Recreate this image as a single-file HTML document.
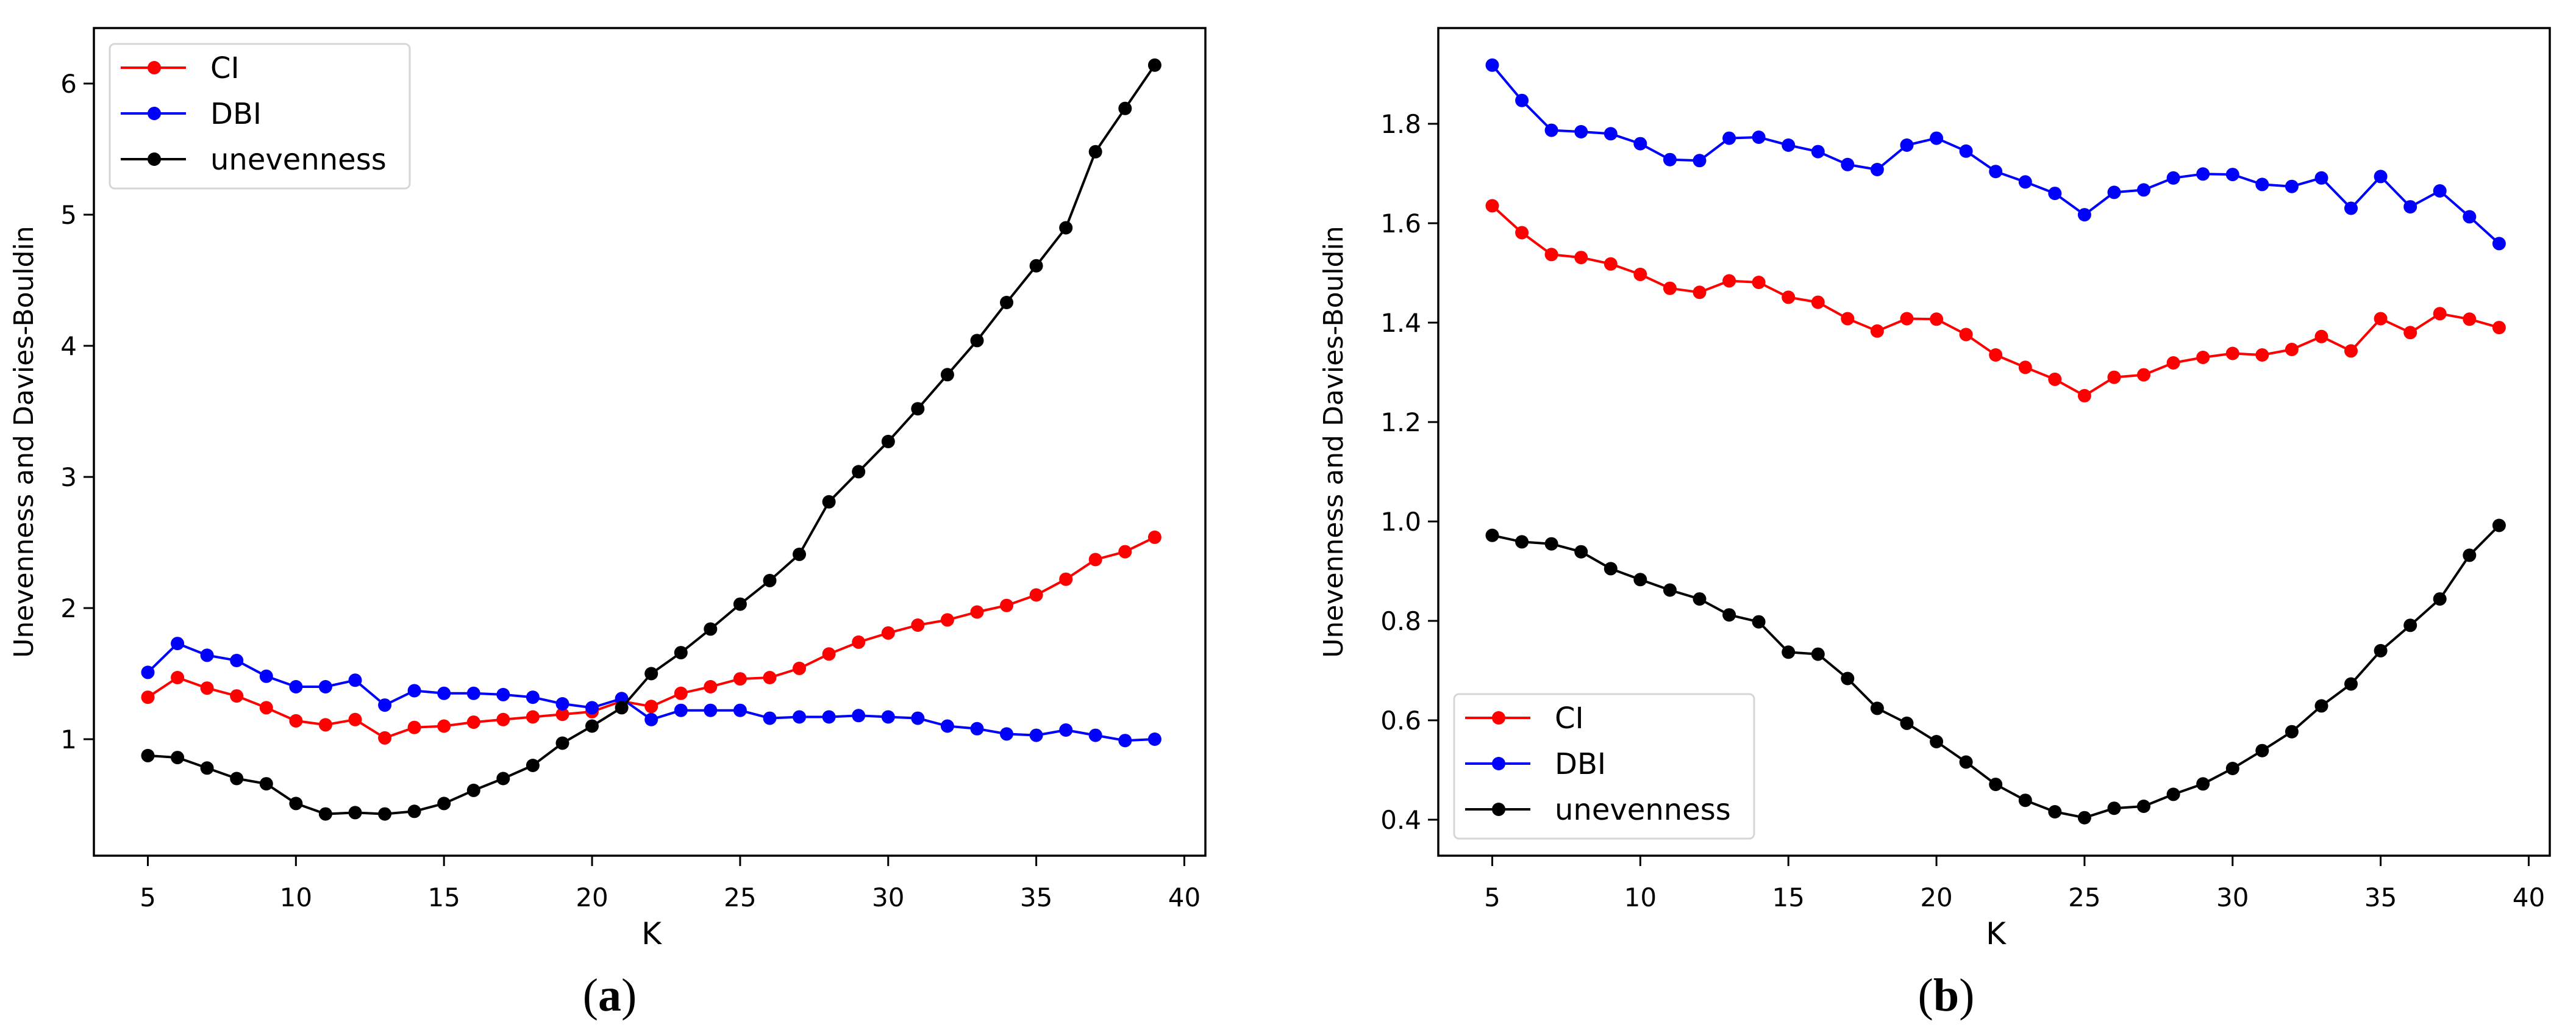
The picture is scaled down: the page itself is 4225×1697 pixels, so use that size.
<!DOCTYPE html>
<html><head><meta charset="utf-8"><style>
html,body{margin:0;padding:0;background:#fff;}
svg{display:block;}
</style></head><body>
<svg id="fig" width="4225" height="1697" viewBox="0 0 4225 1697" xmlns="http://www.w3.org/2000/svg" font-family="'DejaVu Sans','Liberation Sans',sans-serif"></svg>
<script>
const kValues = [5,6,7,8,9,10,11,12,13,14,15,16,17,18,19,20,21,22,23,24,25,26,27,28,29,30,31,32,33,34,35,36,37,38,39];
const ciA = [1.32,1.47,1.39,1.33,1.24,1.14,1.11,1.15,1.01,1.09,1.10,1.13,1.15,1.17,1.19,1.21,1.29,1.25,1.35,1.40,1.46,1.47,1.54,1.65,1.74,1.81,1.87,1.91,1.97,2.02,2.10,2.22,2.37,2.43,2.54];
const dbiA = [1.51,1.73,1.64,1.60,1.48,1.40,1.40,1.45,1.26,1.37,1.35,1.35,1.34,1.32,1.27,1.24,1.31,1.15,1.22,1.22,1.22,1.16,1.17,1.17,1.18,1.17,1.16,1.10,1.08,1.04,1.03,1.07,1.03,0.99,1.00];
const unevA = [0.875,0.86,0.78,0.70,0.66,0.51,0.43,0.44,0.43,0.45,0.51,0.61,0.70,0.80,0.97,1.10,1.24,1.50,1.66,1.84,2.03,2.21,2.41,2.81,3.04,3.27,3.52,3.78,4.04,4.33,4.61,4.90,5.48,5.81,6.14];
const ciB = [1.635,1.581,1.537,1.531,1.518,1.497,1.469,1.461,1.484,1.481,1.451,1.441,1.408,1.383,1.408,1.407,1.376,1.335,1.310,1.286,1.253,1.290,1.295,1.319,1.330,1.338,1.335,1.346,1.372,1.343,1.408,1.380,1.418,1.407,1.390];
const dbiB = [1.918,1.847,1.787,1.784,1.780,1.760,1.728,1.726,1.771,1.773,1.757,1.744,1.718,1.708,1.757,1.771,1.745,1.704,1.683,1.660,1.617,1.662,1.667,1.691,1.699,1.698,1.678,1.674,1.691,1.630,1.694,1.633,1.665,1.613,1.559];
const unevB = [0.972,0.959,0.955,0.939,0.905,0.883,0.862,0.844,0.812,0.798,0.737,0.733,0.684,0.624,0.594,0.557,0.516,0.471,0.439,0.416,0.404,0.423,0.427,0.451,0.472,0.503,0.539,0.577,0.629,0.673,0.740,0.791,0.844,0.932,0.992];
const xTicks = [5,10,15,20,25,30,35,40];
const yTicksA = [1,2,3,4,5,6];
const yTickLabelsA = ["1","2","3","4","5","6"];
const yTicksB = [0.4,0.6,0.8,1.0,1.2,1.4,1.6,1.8];
const yTickLabelsB = ["0.4","0.6","0.8","1.0","1.2","1.4","1.6","1.8"];
const seriesNames = ["CI","DBI","unevenness"];
const seriesColors = ["#ff0000","#0000ff","#000000"];

const NS = "http://www.w3.org/2000/svg";
const svg = document.getElementById('fig');
function mk(tag, attrs, parent){
  const e = document.createElementNS(NS, tag);
  for (const k in attrs) e.setAttribute(k, attrs[k]);
  (parent||svg).appendChild(e);
  return e;
}

function panel(id, ox, yMin, yMax, yTicks, yLabels, series, legendPos, caption, captionX, ylabX){
  const L = ox, R = ox + 1823, T = 46, B = 1403;
  const x0 = ox + 88.5, pxPerK = 48.57;
  const xs = k => x0 + (k - 5) * pxPerK;
  const ys = v => B - (v - yMin) / (yMax - yMin) * (B - T);
  const g = mk('g', {});
  
  
  series.forEach((vals, si) => {
    const sg = mk('g', {}, g);
    
    
    const pts = vals.map((v, i) => xs(kValues[i]).toFixed(1) + ',' + ys(v).toFixed(1)).join(' ');
    const pl = mk('polyline', {points: pts, fill: 'none', stroke: seriesColors[si], 'stroke-width': 4, 'stroke-linejoin': 'round'}, sg);
    
    
    vals.forEach((v, i) => {
      const c = mk('circle', {cx: xs(kValues[i]).toFixed(1), cy: ys(v).toFixed(1), r: 11, fill: seriesColors[si]}, sg);
      
      
    });
  });
  const fr = mk('rect', {x: L, y: T, width: R - L, height: B - T, fill: 'none', stroke: '#000', 'stroke-width': 3.5}, g);
  
  
  xTicks.forEach(t => {
    const x = xs(t);
    const tk = mk('line', {x1: x, x2: x, y1: B, y2: B + 17, stroke: '#000', 'stroke-width': 3}, g);
    
    
    const tx = mk('text', {x: x, y: B + 83, 'font-size': 42, 'text-anchor': 'middle', fill: '#000'}, g);
    tx.textContent = String(t);
    
    
  });
  yTicks.forEach((t, i) => {
    const y = ys(t);
    const tk = mk('line', {x1: L - 17, x2: L, y1: y, y2: y, stroke: '#000', 'stroke-width': 3}, g);
    
    
    const tx = mk('text', {x: L - 28, y: y + 15, 'font-size': 42, 'text-anchor': 'end', fill: '#000'}, g);
    tx.textContent = yLabels[i];
    
    
  });
  const xl = mk('text', {x: (L + R) / 2 + 3, y: 1548, 'font-size': 50, 'text-anchor': 'middle', fill: '#000'}, g);
  xl.textContent = 'K';
  
  
  const yl = mk('text', {x: 0, y: 0, 'font-size': 44, 'text-anchor': 'middle', fill: '#000', transform: 'translate(' + ylabX + ',' + ((T + B) / 2) + ') rotate(-90)'}, g);
  yl.textContent = 'Unevenness and Davies-Bouldin';
  
  
  const lg = mk('g', {}, g);
  
  
  const lx = legendPos[0], ly = legendPos[1];
  mk('rect', {x: lx, y: ly, width: 492, height: 237, rx: 8, fill: '#fff', 'fill-opacity': 0.85, stroke: '#d6d6d6', 'stroke-width': 3}, lg);
  seriesNames.forEach((n, i) => {
    const cy = ly + 39 + i * 75;
    const e = mk('g', {}, lg);
    
    
    mk('line', {x1: lx + 18, x2: lx + 125, y1: cy, y2: cy, stroke: seriesColors[i], 'stroke-width': 4}, e);
    mk('circle', {cx: lx + 73, cy: cy, r: 11, fill: seriesColors[i]}, e);
    const t = mk('text', {x: lx + 165, y: cy + 17, 'font-size': 48, fill: '#000'}, e);
    t.textContent = n;
  });
  const cap = mk('text', {x: captionX, y: 1657, 'font-size': 76, 'text-anchor': 'middle', fill: '#000', 'font-family': "'Liberation Serif',serif"}, g);
  cap.innerHTML = '(<tspan font-weight="bold">' + caption + '</tspan>)';
  
  
}

panel('a', 154, 0.1118, 6.423, yTicksA, yTickLabelsA, [ciA, dbiA, unevA], [180, 72], 'a', 1000, 54);
panel('b', 2359, 0.3276, 1.9926, yTicksB, yTickLabelsB, [ciB, dbiB, unevB], [2385, 1138], 'b', 3192, 2202);
</script>
</body></html>
